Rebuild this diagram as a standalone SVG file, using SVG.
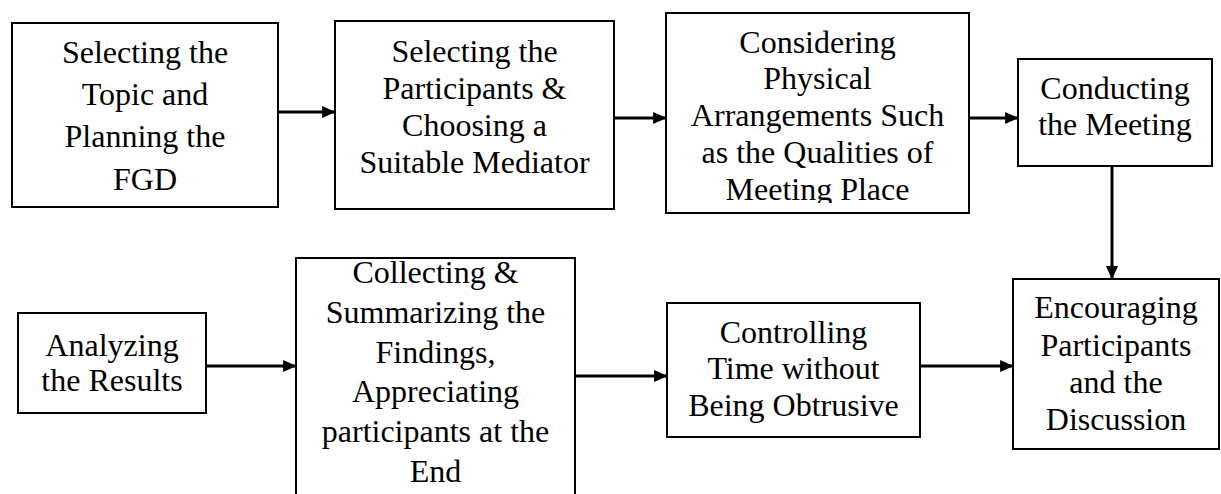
<svg xmlns="http://www.w3.org/2000/svg" width="1221" height="494" viewBox="0 0 1221 494">
<style>
.box{fill:#fff;stroke:#000;stroke-width:2}
.t{font-family:"Liberation Serif","Times New Roman",serif;font-size:32px;fill:#000;text-anchor:middle}
.c{stroke:#000;stroke-width:3;fill:none;marker-end:url(#ah)}
</style>
<defs>
<marker id="ah" markerWidth="4.5" markerHeight="4" refX="4.3" refY="2" orient="auto" markerUnits="strokeWidth">
<path d="M0,0 L4.5,2 L0,4 Z" fill="#000"/>
</marker>
<clipPath id="clip3"><rect x="666" y="13" width="303" height="190"/></clipPath>
</defs>
<rect width="1221" height="494" fill="#fff"/>
<g id="connectors">
<line class="c" x1="278" y1="112" x2="335" y2="112"/>
<line class="c" x1="614" y1="118" x2="666" y2="118"/>
<line class="c" x1="969" y1="118" x2="1018" y2="118"/>
<line class="c" x1="1112" y1="166" x2="1112" y2="279"/>
<line class="c" x1="920" y1="366" x2="1013" y2="366"/>
<line class="c" x1="575" y1="376" x2="667" y2="376"/>
<line class="c" x1="206" y1="366" x2="296" y2="366"/>
</g>
<g id="n1">
<rect class="box" x="12" y="23" width="266" height="184"/>
<text class="t" x="145" y="63">Selecting the</text>
<text class="t" x="145" y="105">Topic and</text>
<text class="t" x="145" y="147">Planning the</text>
<text class="t" x="145" y="190">FGD</text>
</g>
<g id="n2">
<rect class="box" x="335" y="21" width="279" height="188"/>
<text class="t" x="474.5" y="62">Selecting the</text>
<text class="t" x="474.5" y="99">Participants &amp;</text>
<text class="t" x="474.5" y="136">Choosing a</text>
<text class="t" x="474.5" y="173">Suitable Mediator</text>
</g>
<g id="n3">
<rect class="box" x="666" y="13" width="303" height="200"/>
<g clip-path="url(#clip3)">
<text class="t" x="817.5" y="53">Considering</text>
<text class="t" x="817.5" y="89">Physical</text>
<text class="t" x="817.5" y="126">Arrangements Such</text>
<text class="t" x="817.5" y="163">as the Qualities of</text>
<text class="t" x="817.5" y="200">Meeting Place</text>
</g>
</g>
<g id="n4">
<rect class="box" x="1018" y="59" width="194" height="107"/>
<text class="t" x="1115" y="99">Conducting</text>
<text class="t" x="1115" y="135">the Meeting</text>
</g>
<g id="n5">
<rect class="box" x="1013" y="279" width="206" height="170"/>
<text class="t" x="1116" y="318">Encouraging</text>
<text class="t" x="1116" y="356">Participants</text>
<text class="t" x="1116" y="393">and the</text>
<text class="t" x="1116" y="430">Discussion</text>
</g>
<g id="n6">
<rect class="box" x="667" y="303" width="253" height="134"/>
<text class="t" x="793.5" y="343">Controlling</text>
<text class="t" x="793.5" y="379">Time without</text>
<text class="t" x="793.5" y="416">Being Obtrusive</text>
</g>
<g id="n7">
<path class="box" d="M296,500 V258 H575 V500"/>
<text class="t" x="435.5" y="283">Collecting &amp;</text>
<text class="t" x="435.5" y="323">Summarizing the</text>
<text class="t" x="435.5" y="363">Findings,</text>
<text class="t" x="435.5" y="402">Appreciating</text>
<text class="t" x="435.5" y="442">participants at the</text>
<text class="t" x="435.5" y="482">End</text>
</g>
<g id="n8">
<rect class="box" x="18" y="313" width="188" height="100"/>
<text class="t" x="112" y="356">Analyzing</text>
<text class="t" x="112" y="391">the Results</text>
</g>
</svg>
